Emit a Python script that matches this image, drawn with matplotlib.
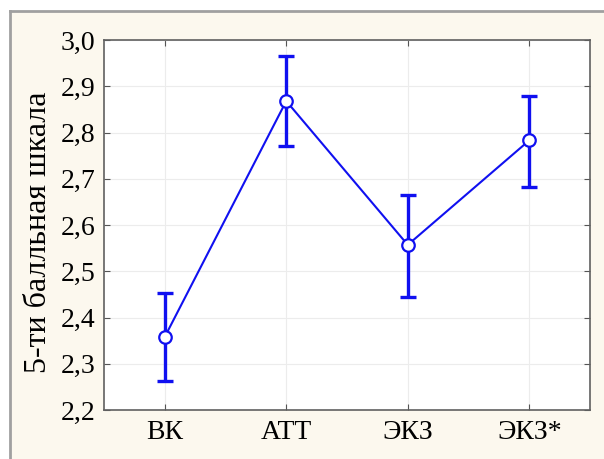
import matplotlib.pyplot as plt
from matplotlib.patches import Rectangle

# ── Data ──────────────────────────────────────────────────────────────────────
categories = ["ВК", "АТТ", "ЭКЗ", "ЭКЗ*"]
means      = [2.358, 2.868, 2.557, 2.783]
upper      = [2.452, 2.966, 2.665, 2.879]
lower      = [2.262, 2.771, 2.444, 2.683]
y_ticks    = [2.2, 2.3, 2.4, 2.5, 2.6, 2.7, 2.8, 2.9, 3.0]
y_label    = "5-ти балльная шкала"

BLUE = "#1010f0"
BG   = "#fcf8ee"

plt.rcParams["font.family"] = ["Liberation Serif", "DejaVu Serif"]

fig = plt.figure(figsize=(6.04, 4.59), dpi=100)
fig.patch.set_facecolor("white")

# beige panel with grey frame on top/left
fig.patches.append(Rectangle((10 / 604, 0), 1, 1 - 11 / 459,
                             transform=fig.transFigure, facecolor=BG,
                             edgecolor="none", zorder=-2))
fig.add_artist(plt.Line2D([10 / 604, 1], [1 - 11 / 459] * 2,
                          transform=fig.transFigure, color="#a0a0a0", lw=2))
fig.add_artist(plt.Line2D([10 / 604] * 2, [0, 1 - 11 / 459],
                          transform=fig.transFigure, color="#a0a0a0", lw=2))

ax = fig.add_axes([104 / 604, 1 - 410 / 459, 486 / 604, 370 / 459])
ax.set_facecolor("white")

x = list(range(len(categories)))
err_lo = [m - l for m, l in zip(means, lower)]
err_hi = [u - m for m, u in zip(means, upper)]

ax.plot(x, means, color=BLUE, lw=1.5, zorder=2)
ax.errorbar(x, means, yerr=[err_lo, err_hi], fmt="none", ecolor=BLUE,
            elinewidth=2.4, capsize=5.5, capthick=2.4, zorder=3)
ax.plot(x, means, "o", ms=9, mfc="white", mec=BLUE, mew=1.6, zorder=4)

ax.set_xlim(-0.5, 3.5)
ax.set_ylim(2.2, 3.0)
ax.set_xticks(x)
ax.set_xticklabels(categories)
ax.set_yticks(y_ticks)
ax.set_yticklabels([f"{v:.1f}".replace(".", ",") for v in y_ticks])
ax.tick_params(axis="both", direction="in", labelsize=20, length=4,
               color="#555555", top=True, right=True)
ax.tick_params(axis="x", pad=7)
ax.tick_params(axis="y", pad=6)
ax.grid(True, color="#ececec", lw=0.8)
ax.set_axisbelow(True)
for s in ax.spines.values():
    s.set_color("#606060")
    s.set_linewidth(1.2)

ax.set_ylabel(y_label, fontsize=23)
ax.yaxis.set_label_coords(-0.104, 0.481)

fig.savefig("out.png", dpi=100, facecolor=fig.get_facecolor())
